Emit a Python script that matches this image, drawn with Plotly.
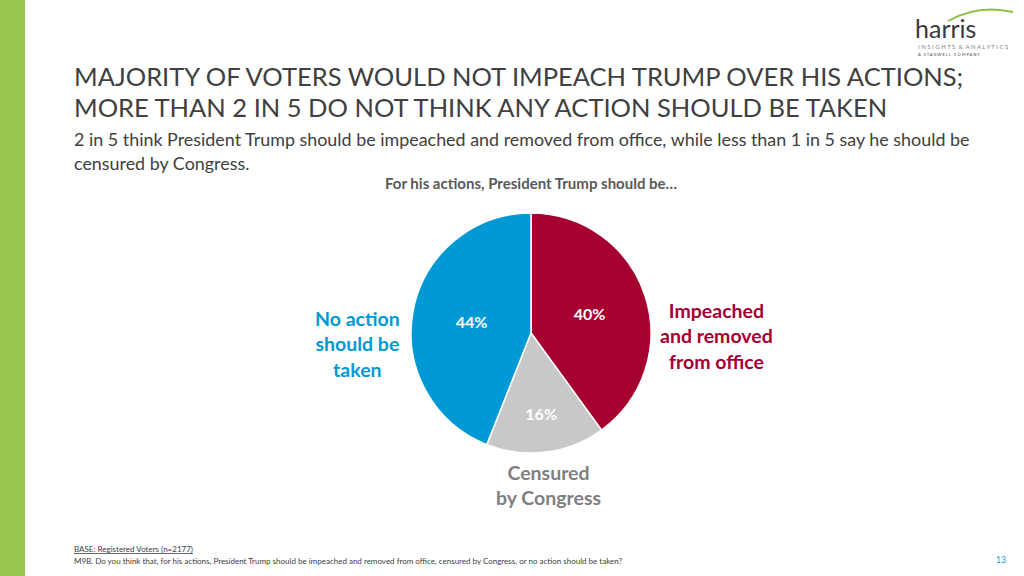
import plotly.graph_objects as go

categories = ["Impeached and removed from office", "Censured by Congress", "No action should be taken"]
values = [40, 16, 44]
colors = ["#A50030", "#C8C8C8", "#0099D6"]
text_labels = ["40%", "16%", "44%"]

W, H = 1024, 576
cx, cy, r = 531, 333, 120

fig = go.Figure()
fig.add_trace(go.Pie(
    labels=categories, values=values, text=text_labels,
    textinfo="text", textposition="inside", insidetextorientation="horizontal",
    textfont=dict(family="Lato", size=16, color="white", weight="bold"),
    marker=dict(colors=colors, line=dict(color="white", width=1.5)),
    sort=False, direction="clockwise", rotation=0, showlegend=False, hoverinfo="label+percent",
    domain=dict(x=[(cx - r) / W, (cx + r) / W], y=[(H - cy - r) / H, (H - cy + r) / H]),
))

ann = []
def add(x, y, text, size, color, bold=False, xanchor="left", family="Lato", align="left"):
    ann.append(dict(x=x / W, y=1 - y / H, xref="paper", yref="paper", text=text, showarrow=False,
                    xanchor=xanchor, yanchor="middle", align=align, borderpad=0,
                    font=dict(family=family, size=size, color=color, weight="bold" if bold else "normal")))

add(73, 76, "MAJORITY OF VOTERS WOULD NOT IMPEACH TRUMP OVER HIS ACTIONS;", 25.5, "#404040")
add(73, 107, "MORE THAN 2 IN 5 DO NOT THINK ANY ACTION SHOULD BE TAKEN", 25.5, "#404040")
add(73, 139, "2 in 5 think President Trump should be impeached and removed from office, while less than 1 in 5 say he should be", 17.9, "#404040")
add(73, 163, "censured by Congress.", 17.9, "#404040")
add(531, 183, "For his actions, President Trump should be…", 15, "#595959", bold=True, xanchor="center")
add(716, 336, "Impeached<br>and removed<br>from office", 19.5, "#A50030", bold=True, xanchor="center", align="center")
add(357, 344, "No action<br>should be<br>taken", 19.5, "#0099D6", bold=True, xanchor="center", align="center")
add(548, 485, "Censured<br>by Congress", 19.5, "#7F7F7F", bold=True, xanchor="center", align="center")
add(73, 549, "<u>BASE: Registered Voters (n=2177)</u>", 8, "#404040")
add(73, 561, "M9B. Do you think that, for his actions, President Trump should be impeached and removed from office, censured by Congress, or no action should be taken?", 8, "#404040")
add(1001, 560, "13", 8.5, "#0099D6", xanchor="center")
add(914, 28, "harris", 25, "#3A3A3A", family="Lato")
add(917, 46, "I N S I G H T S  &  A N A L Y T I C S", 6, "#7F7F7F")
add(917, 54, "A   S T A G W E L L   C O M P A N Y", 4, "#3A3A3A")

fig.update_layout(
    width=W, height=H, margin=dict(l=0, r=0, t=0, b=0),
    paper_bgcolor="white", plot_bgcolor="white",
    annotations=ann,
    shapes=[
        dict(type="rect", xref="paper", yref="paper", x0=0, x1=25 / W, y0=0, y1=1,
             fillcolor="#97C54F", line=dict(width=0), layer="below"),
        dict(type="path", xref="paper", yref="paper",
             path=f"M {948/W} {1-21/H} Q {978/W} {1-4/H} {1013/W} {1-12/H}",
             line=dict(color="#8DC04A", width=2)),
    ],
)
fig.write_html("out.html", config={"displayModeBar": False},
               post_script="document.body.style.margin='0';document.body.style.overflow='hidden';")
